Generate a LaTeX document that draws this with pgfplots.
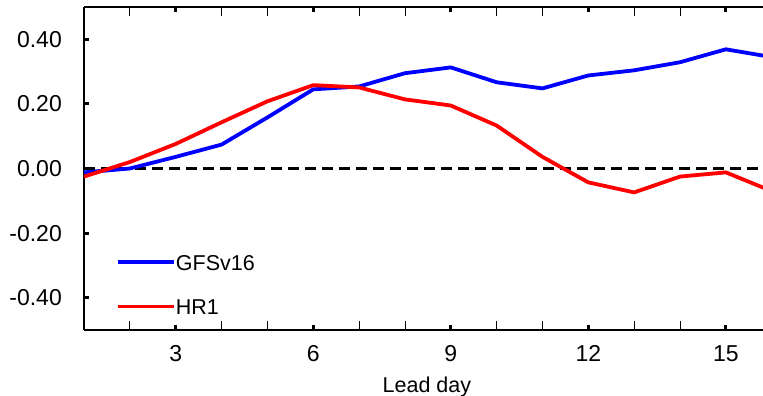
\documentclass[border=0pt]{standalone}
\usepackage{pgfplots}
\pgfplotsset{compat=1.18}
\usepackage{fontspec}
\setmainfont{Liberation Sans}
\begin{document}
\fontsize{21.5}{25}\selectfont
\begin{tikzpicture}[x=1pt,y=1pt]
\useasboundingbox (0,0) rectangle (763,396);
\begin{axis}[
  at={(84pt,66pt)}, anchor=south west,
  scale only axis, width=679pt, height=323pt,
  xmin=1, xmax=15.81, ymin=-0.5, ymax=0.5,
  axis y line*=left,
  axis line style={line width=2.5pt, black},
  xtick={3,6,9,12,15},
  minor xtick={1,2,4,5,7,8,10,11,13,14},
  ytick={-0.4,-0.2,0,0.2,0.4},
  yticklabels={-0.40,-0.20,0.00,0.20,0.40},
  /pgf/number format/assume math mode=true,
  tick align=inside,
  xtick pos=both, ytick pos=left,
  major tick length=5pt, minor tick length=9pt,
  major tick style={line width=3pt, black},
  minor tick style={line width=0.8pt, black},
  tick label style={font=\fontsize{23}{27}\selectfont, inner sep=0pt},
  yticklabel shift=22pt,
  xticklabel shift=15pt,
  xlabel={Lead day},
  xlabel style={at={(axis description cs:0.505,0)}, anchor=base, yshift=-62.4pt, inner sep=0pt, font=\fontsize{21.5}{25}\selectfont},
  legend style={at={(rel axis cs:0.047,0.232)}, anchor=north west, draw=none, fill=none,
    inner sep=0pt, nodes={inner sep=0pt}, row sep=26pt, font=\fontsize{21.5}{25}\selectfont,
    /tikz/every odd column/.append style={column sep=0pt}},
  legend cell align=left,
  legend image code/.code={\draw[#1] (0pt,2pt) -- (56pt,2pt);},
]
\addplot[black, line width=3pt, dash pattern=on 11pt off 6pt, forget plot] coordinates {(1,0) (16,0)};
\addplot[blue, line width=3.8pt, line join=round] coordinates {
(1,-0.012)(2,0.000)(3,0.036)(4,0.074)(5,0.158)(6,0.245)(7,0.254)(8,0.295)(9,0.313)(10,0.267)(11,0.248)(12,0.288)(13,0.304)(14,0.329)(15,0.369)(16,0.345)};
\addlegendentry{GFSv16}
\addplot[red, line width=3.8pt, line join=round] coordinates {
(1,-0.025)(2,0.020)(3,0.076)(4,0.143)(5,0.208)(6,0.258)(7,0.251)(8,0.214)(9,0.195)(10,0.133)(11,0.036)(12,-0.043)(13,-0.074)(14,-0.025)(15,-0.012)(16,-0.07)};
\addlegendentry{HR1}
\end{axis}
\end{tikzpicture}
\end{document}
